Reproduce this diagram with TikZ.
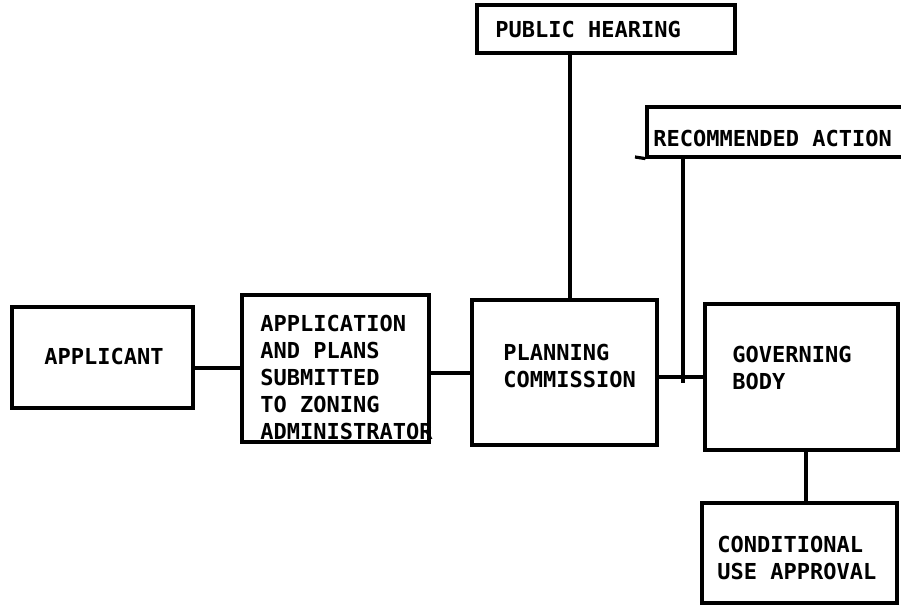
\documentclass[tikz,border=0pt]{standalone}
\usepackage{fontspec}
\setmonofont{DejaVu Sans Mono}
\usetikzlibrary{fit}
\begin{document}
\begin{tikzpicture}[x=0.5pt,y=-0.5pt,
  box/.style={draw, line width=1.6pt, inner sep=0pt},
  lbl/.style={font=\ttfamily\bfseries\fontsize{11pt}{13.5pt}\selectfont, inner sep=0pt, align=left, anchor=base west},
  conn/.style={line width=1.6pt}]
\fill[white] (0,0) rectangle (901,608);
\clip (0,0) rectangle (901,608);
% boxes (multi-line labels are placed by the baseline of their last line)
\node[box, fit={(12,307)(193,408)}] (applicant) {};
\node[lbl, anchor=base] (applicant-t) at (104,365) {APPLICANT};
\node[box, fit={(242,295)(429,442)}] (app) {};
\node[lbl] (app-t) at (260,440) {APPLICATION\\AND PLANS\\SUBMITTED\\TO ZONING\\ADMINISTRATOR};
\node[box, fit={(472,300)(657,445)}] (pc) {};
\node[lbl] (pc-t) at (503,388) {PLANNING\\COMMISSION};
\node[box, fit={(705,304)(898,450)}] (gb) {};
\node[lbl] (gb-t) at (732,390) {GOVERNING\\BODY};
\node[box, fit={(702,503)(897,603)}] (cua) {};
\node[lbl] (cua-t) at (717,580) {CONDITIONAL\\USE APPROVAL};
\node[box, fit={(477,5)(735,53)}] (ph) {};
\node[lbl] (ph-t) at (495,38) {PUBLIC HEARING};
\node[box, fit={(647,107)(920,157)}] (ra) {};
\node[lbl] (ra-t) at (653,147) {RECOMMENDED ACTION};
% connectors
\draw[conn] (applicant.east |- 0,368) -- (app.west |- 0,368);
\draw[conn] (app.east |- 0,373) -- (pc.west |- 0,373);
\draw[conn] (pc.east |- 0,377) -- (gb.west |- 0,377);
\draw[conn] (ph.south -| 570,0) -- (pc.north -| 570,0);
\coordinate (ra-end) at (683,383);
\draw[conn] (ra.south -| ra-end) -- (ra-end);
\coordinate (ra-stub) at (635,157);
\draw[conn] (ra.south west) -- (ra-stub);
\draw[conn] (gb.south -| 806,0) -- (cua.north -| 806,0);
\end{tikzpicture}
\end{document}
